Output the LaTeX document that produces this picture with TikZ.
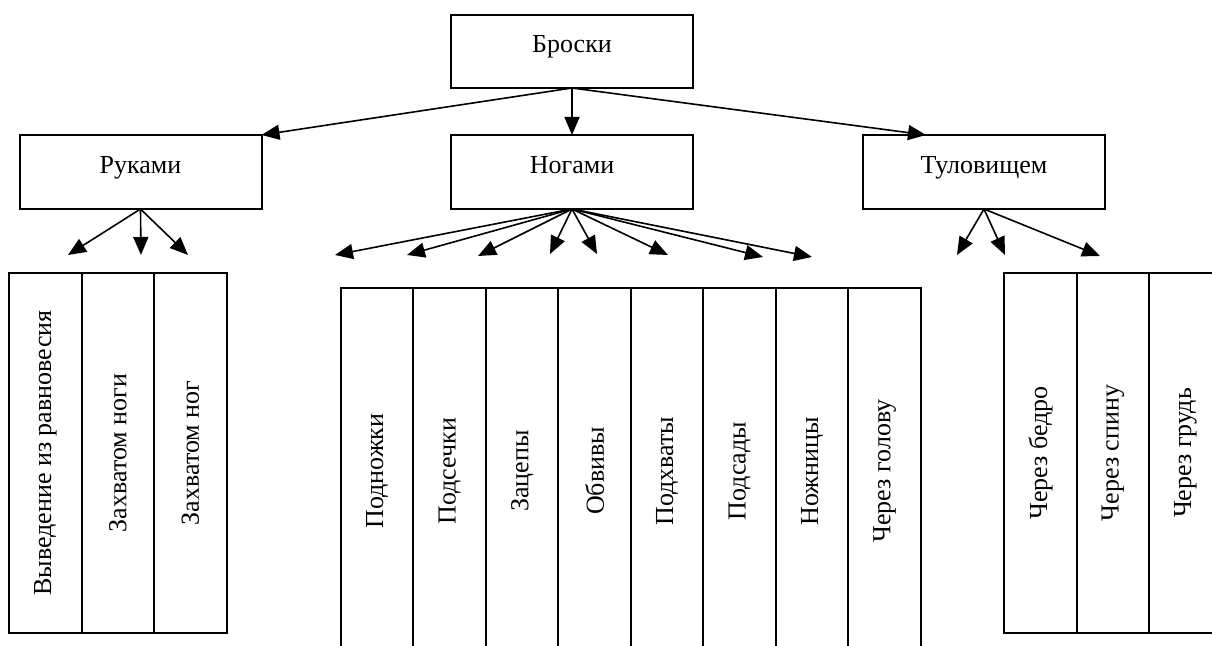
\documentclass[tikz,border=0pt]{standalone}
\usepackage{fontspec}
\setmainfont{Liberation Serif}
\usetikzlibrary{positioning,arrows.meta}

\begin{document}
\begin{tikzpicture}[x=0.5pt,y=-0.5pt,
every node/.style={font=\fontsize{13}{15}\selectfont, outer sep=0pt},
box/.style={draw,line width=1pt,minimum width=121pt,minimum height=37pt,text height=9pt,text depth=7.5pt},
cell/.style={draw,line width=1pt,minimum width=36.25pt,minimum height=180pt,inner sep=0pt},
tallcell/.style={cell,minimum height=183pt},
arr/.style={-{Triangle[length=9pt,width=7.5pt]},line width=0.8pt}]
\useasboundingbox (0,0) rectangle (1212,646);

% top level
\node[box, minimum height=36.5pt] (broski) at (572,51.5) {Броски};
\node[box] (ruki) at (140.5,172) {Руками};
\node[box] (nogi) at (572,172) {Ногами};
\node[box] (tulov) at (984,172) {Туловищем};

\coordinate (t3) at (926,135);
\draw[arr] (broski.south) -- (ruki.north east);
\draw[arr] (broski.south) -- (nogi.north);
\draw[arr] (broski.south) -- (t3);

% hands
\node[cell] (r1) at (45.3,453) {\rotatebox{90}{Выведение из равновесия}};
\node[cell, right=0pt of r1] (r2) {\rotatebox{90}{Захватом ноги}};
\node[cell, right=0pt of r2] (r3) {\rotatebox{90}{Захватом ног}};

\coordinate (ra) at (68,255);
\coordinate (rb) at (141,255);
\coordinate (rc) at (188,255);
\foreach \e in {ra,rb,rc}
  \draw[arr] (ruki.south) -- (\e);

% legs
\node[tallcell] (n1) at (377.2,471) {\rotatebox{90}{Подножки}};
\node[tallcell, right=0pt of n1] (n2) {\rotatebox{90}{Подсечки}};
\node[tallcell, right=0pt of n2] (n3) {\rotatebox{90}{Зацепы}};
\node[tallcell, right=0pt of n3] (n4) {\rotatebox{90}{Обвивы}};
\node[tallcell, right=0pt of n4] (n5) {\rotatebox{90}{Подхваты}};
\node[tallcell, right=0pt of n5] (n6) {\rotatebox{90}{Подсады}};
\node[tallcell, right=0pt of n6] (n7) {\rotatebox{90}{Ножницы}};
\node[tallcell, right=0pt of n7] (n8) {\rotatebox{90}{Через голову}};

\coordinate (na) at (335,255);
\coordinate (nb) at (407,255);
\coordinate (nc) at (478,256);
\coordinate (nd) at (550,254);
\coordinate (ne) at (597,254);
\coordinate (nf) at (668,255);
\coordinate (ng) at (763,257);
\coordinate (nh) at (812,257);
\foreach \e in {na,nb,nc,nd,ne,nf,ng,nh}
  \draw[arr] (nogi.south) -- (\e);

% body
\node[cell] (b1) at (1040.5,453) {\rotatebox{90}{Через бедро}};
\node[cell, right=0pt of b1] (b2) {\rotatebox{90}{Через спину}};
\node[cell, right=0pt of b2] (b3) {\rotatebox{90}{Через грудь}};

\coordinate (ba) at (957,255);
\coordinate (bb) at (1005,255);
\coordinate (bc) at (1100,256);
\foreach \e in {ba,bb,bc}
  \draw[arr] (tulov.south) -- (\e);
\end{tikzpicture}
\end{document}
